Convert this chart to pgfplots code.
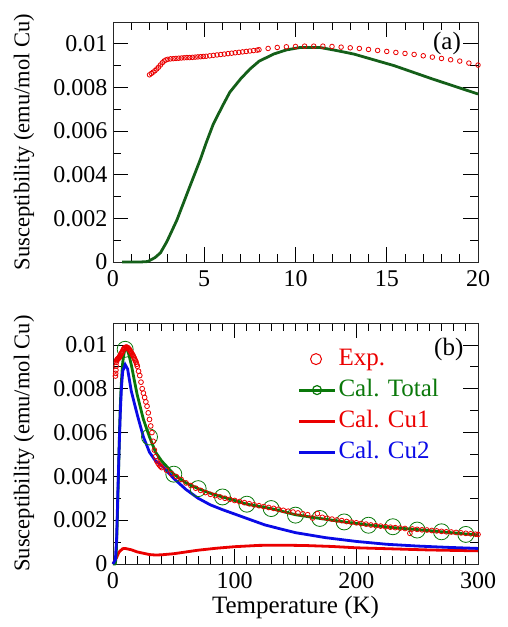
\documentclass[border=0pt]{standalone}
\usepackage{pgfplots}
\pgfplotsset{compat=1.18}
\usepackage{fontspec}
\setmainfont{Liberation Serif}
\definecolor{agreen}{RGB}{20,95,25}
\definecolor{bgreen}{RGB}{10,120,10}
\definecolor{myred}{RGB}{235,0,0}
\definecolor{myblue}{RGB}{10,10,230}
\pgfplotsset{
  myaxis/.style={
    scale only axis, width=365pt, height=240pt, anchor=south west,
    ymin=0, ymax=0.011,
    ytick={0,0.002,0.004,0.006,0.008,0.01},
    yticklabels={0,0.002,0.004,0.006,0.008,0.01},
    minor y tick num=1,
    scaled y ticks=false,
    tick align=inside, tick pos=both,
    major tick length=15pt, minor tick length=8pt,
    every tick/.style={black, line width=0.8pt},
    axis line style={line width=0.9pt, black!85},
    tick label style={font=\fontsize{24}{28}\selectfont},
    /pgf/number format/assume math mode=true,
    yticklabel style={xshift=-2pt},
    xticklabel style={inner sep=0pt, yshift=-8.5pt},
    ylabel style={font=\fontsize{22.5}{26}\selectfont, at={(axis description cs:-0.244,0.5)}, rotate=0, anchor=center},
    xlabel style={font=\fontsize{25}{30}\selectfont, inner sep=0pt, at={(axis description cs:0.5,-0.182)}, anchor=center},
    clip=false,
  },
  expleg/.style={legend image code/.code={\draw[myred, line width=1pt] (17pt,0pt) circle (5.5pt);}},
  totleg/.style={legend image code/.code={\draw[bgreen, line width=3pt] (0pt,0pt) -- (36pt,0pt); \draw[bgreen, line width=1.2pt] (18pt,0pt) circle (4.5pt);}},
  cu1leg/.style={legend image code/.code={\draw[myred, line width=3pt] (0pt,0pt) -- (36pt,0pt);}},
  cu2leg/.style={legend image code/.code={\draw[myblue, line width=3pt] (0pt,0pt) -- (36pt,0pt);}},
}
\begin{document}
\begin{tikzpicture}
\path[use as bounding box] (0,0) rectangle (507pt,627pt);
% ---------------- (a)
\begin{axis}[myaxis, at={(113pt,365pt)},
  xmin=0, xmax=20, xtick={0,5,10,15,20}, minor x tick num=4,
  ylabel={Susceptibility (emu/mol Cu)}]
\addplot[agreen, line width=2.8pt] coordinates {
(0.5,0) (1.0,0) (1.5,0) (1.9,0.00002) (2.3,0.0002) (2.6,0.00042) (2.95,0.00093)
(3.5,0.00192) (4.2,0.00344) (4.8,0.00473) (5.1,0.00545) (5.5,0.00633) (6.0,0.00715)
(6.4,0.00778) (7.0,0.0084) (7.5,0.00884) (8.0,0.0092) (8.8,0.00953) (9.5,0.00972)
(10.25,0.00983) (11.35,0.00983) (12.2,0.0097) (13.2,0.00953) (15.4,0.009)
(17.5,0.00839) (20,0.0077)};
\addplot[only marks, myred, mark=o, mark size=2.3pt, mark options={line width=0.8pt}] coordinates {
(2.0,0.00858) (2.1,0.00864) (2.2,0.00870) (2.3,0.00877) (2.4,0.00885) (2.5,0.00893)
(2.6,0.00903) (2.7,0.00913) (2.8,0.00921) (2.9,0.00926) (3.0,0.00929) (3.15,0.00931)
(3.3,0.00932) (3.45,0.00933) (3.6,0.00934) (3.75,0.00935) (3.9,0.00936) (4.05,0.00937)
(4.2,0.00937) (4.35,0.00938) (4.5,0.00939) (4.65,0.00940) (4.8,0.00941) (4.95,0.00942)
(5.1,0.00943) (5.3,0.00945) (5.5,0.00947) (5.7,0.00949) (5.9,0.00951) (6.1,0.00953)
(6.3,0.00955) (6.5,0.00957) (6.7,0.00959) (6.9,0.00961) (7.1,0.00963) (7.3,0.00965)
(7.5,0.00967) (7.7,0.00969) (7.9,0.00971) (8.0,0.00973)
(8.5,0.009787) (9,0.009832) (9.5,0.009863) (10,0.009878) (10.5,0.009893) (11,0.009893)
(11.5,0.009893) (12,0.009878) (12.5,0.009848) (13,0.009817) (13.5,0.009787) (14,0.009741)
(14.5,0.009696) (15,0.009650) (15.5,0.009604) (16,0.009559) (16.5,0.009513) (17,0.009452)
(17.5,0.009391) (18,0.009330) (18.5,0.009269) (19,0.009209) (19.5,0.009117) (20,0.009026)};
\node[font=\fontsize{25}{30}\selectfont] at (axis description cs:0.915,0.9125) {(a)};
\end{axis}
% ---------------- (b)
\begin{axis}[myaxis, at={(113pt,63pt)}, height=241pt,
  xmin=0, xmax=300, xtick={0,100,200,300}, minor x tick num=9,
  ylabel={Susceptibility (emu/mol Cu)}, xlabel={Temperature (K)},
  legend style={at={(axis description cs:0.505,0.905)}, anchor=north west,
    draw=none, fill=none, inner sep=0pt, row sep=5pt,
    font=\fontsize{25}{30}\selectfont,
    nodes={text height=17pt, text depth=5pt, inner sep=2pt}},
  legend cell align=left]
\addlegendimage{expleg}
\addlegendentry{\textcolor{myred}{Exp.}}
\addlegendimage{totleg}
\addlegendentry{\textcolor{bgreen}{Cal. Total}}
\addlegendimage{cu1leg}
\addlegendentry{\textcolor{myred}{Cal. Cu1}}
\addlegendimage{cu2leg}
\addlegendentry{\textcolor{myblue}{Cal. Cu2}}
% Cal Cu1
\addplot[myred, line width=2.8pt, forget plot] coordinates {
(0,0) (3,0.0003) (5,0.00055) (8,0.0007) (10,0.00071) (15,0.00065) (20,0.00055)
(30,0.00043) (35,0.00041) (40,0.00042) (50,0.00047) (60,0.00055) (70,0.00063)
(85,0.00072) (100,0.00079) (120,0.00085) (140,0.00086) (160,0.00084) (180,0.0008)
(200,0.00074) (230,0.00069) (260,0.00064) (300,0.0006)};
% Cal Total
\addplot[bgreen, line width=2.8pt, forget plot] coordinates {
(0,0) (1.5,0) (1.9,0.00002) (2.3,0.0002) (2.6,0.00042) (2.95,0.00093)
(3.5,0.00192) (4.2,0.00344) (4.8,0.00473) (5.1,0.00545) (5.5,0.00633) (6.0,0.00715)
(6.4,0.00778) (7.0,0.0084) (7.5,0.00884) (8.0,0.0092) (8.8,0.00953) (9.5,0.00972)
(10.25,0.00983) (11.35,0.00983) (12.2,0.0097) (13.2,0.00953) (15.4,0.009)
(17.5,0.00839) (20,0.0077) (25,0.0066) (30,0.0058) (35,0.0051) (40,0.0047)
(50,0.0041) (60,0.0037) (70,0.00344) (80,0.00323) (90,0.00306) (100,0.0029)
(110,0.00273) (130,0.00253) (150,0.00225) (170,0.00208) (190,0.00192) (210,0.00178)
(230,0.00166) (250,0.00157) (270,0.00147) (290,0.00137) (300,0.00133)};
% Cal Cu2
\addplot[myblue, line width=2.8pt, forget plot] coordinates {
(0,0) (2,0.0002) (3,0.0012) (4,0.0033) (5,0.0052) (6,0.0069) (7,0.0081) (8,0.0088)
(10,0.0091) (12,0.0089) (15,0.0079) (20,0.0068) (25,0.0058) (30,0.0051) (35,0.0047)
(40,0.0045) (50,0.0039) (60,0.0034) (70,0.0030) (80,0.0027) (90,0.00248) (100,0.00228)
(125,0.00178) (150,0.00143) (175,0.0012) (200,0.00103) (225,0.0009) (250,0.00082)
(275,0.00076) (300,0.00071)};
% Green circles
\addplot[only marks, bgreen, mark=o, mark size=8pt, mark options={line width=0.8pt}, forget plot] coordinates {
(10,0.0098) (30,0.0058) (50,0.0041) (70,0.00344) (90,0.00306) (110,0.00273)
(130,0.00253) (150,0.00223) (170,0.00208) (190,0.00192) (210,0.00177) (230,0.0017)
(250,0.00155) (270,0.00147) (290,0.00135)};
% Exp
\addplot[only marks, myred, mark=o, mark size=2.4pt, mark options={line width=0.8pt}, forget plot] coordinates {
(2.0,0.00858) (2.2,0.00870) (2.4,0.00885) (2.6,0.00903) (2.8,0.00921) (3.0,0.00929)
(3.3,0.00932) (3.6,0.00934) (3.9,0.00936) (4.2,0.00937) (4.5,0.00939) (4.8,0.00941)
(5.1,0.00943) (5.5,0.00947) (5.9,0.00951) (6.3,0.00955) (6.7,0.00959) (7.1,0.00963)
(7.5,0.00967) (7.9,0.00971)
(8.5,0.009787) (9,0.009832) (9.5,0.009863) (10,0.009878) (10.5,0.009893) (11,0.009893)
(11.5,0.009893) (12,0.009878) (12.5,0.009848) (13,0.009817) (13.5,0.009787) (14,0.009741)
(14.5,0.009696) (15,0.009650) (15.5,0.009604) (16,0.009559) (16.5,0.009513) (17,0.009452)
(17.5,0.009391) (18,0.009330) (18.5,0.009269) (19,0.009209) (19.5,0.009117) (20,0.009026)
(21,0.0088) (22,0.0086) (23,0.0083) (24,0.0080) (25,0.0078) (26,0.0076) (27,0.0074)
(28,0.0072) (29,0.0069) (30,0.0066) (31,0.0063) (32,0.0060) (33,0.0056) (34,0.0052)
(35,0.0049) (36,0.0047) (37,0.0046) (38,0.00452) (39,0.00446)
(40,0.0044) (44,0.00428) (48,0.00412) (52,0.00399) (56,0.00386) (60,0.0037) (64,0.00358)
(68,0.00346) (72,0.00336) (76,0.00326) (80,0.00318) (84,0.00312) (88,0.00306)
(92,0.003) (96,0.00295) (100,0.0029) (104,0.00285) (108,0.0028) (112,0.00275)
(116,0.0027) (120,0.00266) (124,0.00262) (128,0.00258) (132,0.00254) (136,0.0025)
(140,0.00245) (144,0.00241) (148,0.00237) (152,0.00233) (156,0.00229) (160,0.00225)
(164,0.0021) (168,0.0023) (172,0.00213) (176,0.00209) (180,0.00205) (184,0.00201)
(188,0.00198) (192,0.00194) (196,0.00191) (200,0.00188) (204,0.00185) (208,0.00182)
(212,0.00178) (216,0.00175) (220,0.00173) (224,0.0017) (228,0.00168) (232,0.00166)
(236,0.00164) (240,0.00162) (244,0.0014) (246,0.0016) (250,0.00158) (254,0.00156)
(258,0.00155) (262,0.00153) (266,0.00151) (270,0.00149) (274,0.00147) (278,0.00146)
(282,0.00144) (286,0.00142) (290,0.0014) (294,0.00138) (298,0.00136) (300,0.00135)};
\node[font=\fontsize{25}{30}\selectfont] at (axis description cs:0.92,0.892) {(b)};
\end{axis}
\end{tikzpicture}
\end{document}
